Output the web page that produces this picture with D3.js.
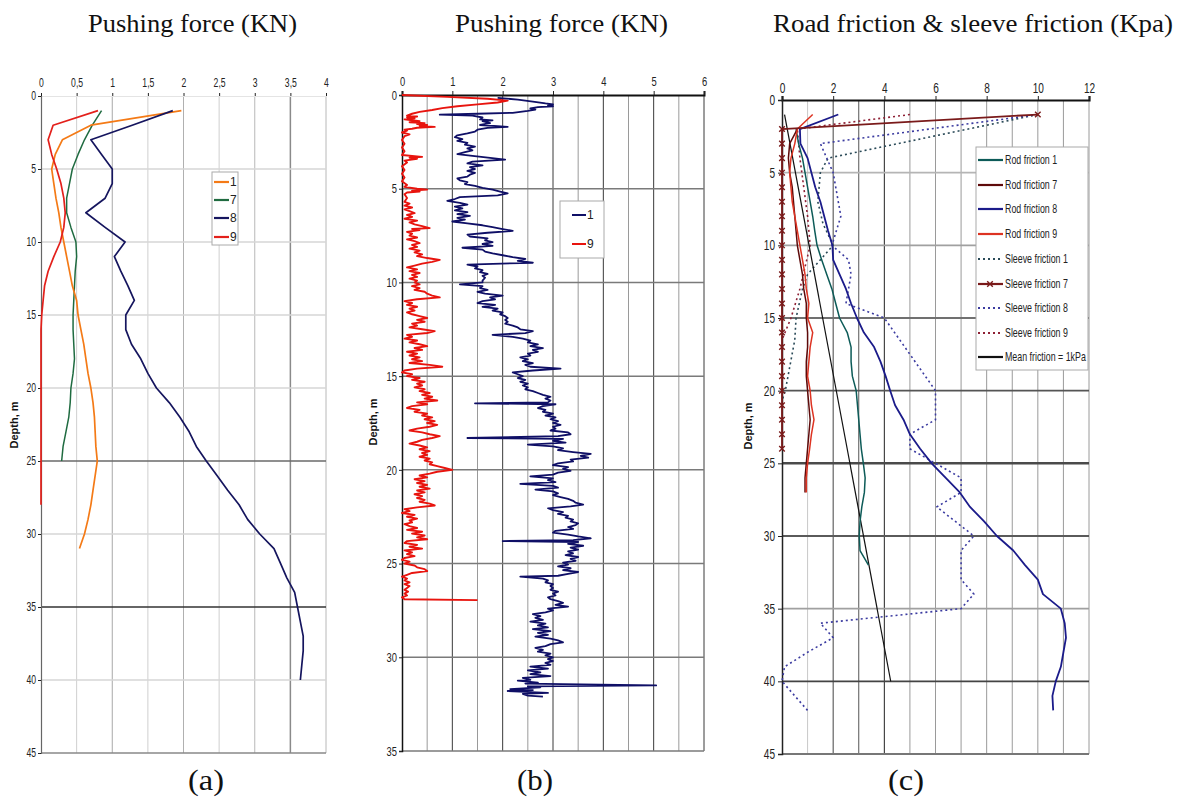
<!DOCTYPE html>
<html><head><meta charset="utf-8">
<script src="https://cdn.jsdelivr.net/npm/d3@7"></script>
<style>
body{margin:0;background:#fff;}
</style></head><body>
<svg id="c" width="1188" height="801"></svg>
<script>
// ---------------- DATA ----------------
const titles = ["Pushing force (KN)", "Pushing force (KN)", "Road friction & sleeve friction (Kpa)"];
const panelLabels = ["(a)", "(b)", "(c)"];
const depthLabel = "Depth, m";

// Panel (a): [depth m, force kN]
const aXTicks = [0,0.5,1,1.5,2,2.5,3,3.5,4];
const aYTicks = [0,5,10,15,20,25,30,35,40,45];
const aNames = ["1","7","8","9"];
const a1 = [[1,1.97],[2,0.7],[3,0.3],[4,0.2],[5,0.15],[6,0.18],[7,0.21],[8,0.25],[9,0.28],[10,0.32],[11,0.36],[12,0.4],[13,0.44],[14,0.5],[15,0.52],[16,0.56],[17,0.6],[18,0.63],[19,0.66],[20,0.7],[21,0.73],[22,0.75],[23,0.76],[24,0.77],[25,0.79],[26,0.76],[27,0.73],[28,0.7],[29,0.66],[30,0.61],[31,0.54]];
const a7 = [[1,0.85],[2,0.72],[3,0.61],[4,0.52],[5,0.44],[6,0.4],[7,0.36],[8,0.36],[9,0.42],[10,0.49],[11,0.5],[12,0.48],[13,0.47],[14,0.46],[15,0.45],[16,0.45],[17,0.46],[18,0.47],[19,0.45],[20,0.42],[21,0.41],[22,0.39],[23,0.35],[24,0.31],[25,0.29]];
const a8 = [[1,1.85],[2,1.28],[3,0.7],[4,0.85],[5,1.0],[6,1.0],[7,0.9],[8,0.63],[9,0.9],[10,1.18],[11,1.03],[12,1.12],[13,1.22],[14,1.31],[15,1.19],[16,1.19],[17,1.27],[18,1.4],[19,1.5],[20,1.62],[21,1.8],[22,1.95],[23,2.08],[24,2.18],[25,2.32],[26,2.47],[27,2.62],[28,2.78],[29,2.9],[30,3.07],[31,3.27],[32,3.36],[33,3.45],[34,3.56],[35,3.6],[36,3.64],[37,3.68],[38,3.68],[39,3.66],[40,3.64]];
const a9 = [[1,0.8],[2,0.17],[3,0.1],[4,0.15],[5,0.22],[6,0.28],[7,0.32],[8,0.34],[9,0.32],[10,0.27],[11,0.18],[12,0.1],[13,0.05],[14,0.03],[15,0.01],[16,0],[28,0]];

// Panel (b): [depth m, force kN]
const bXTicks = [0,1,2,3,4,5,6];
const bYTicks = [0,5,10,15,20,25,30,35];
const bNames = ["1","9"];
const b1 = [[0.15,1.9],[0.25,2.3],[0.35,2.6],[0.45,2.85],[0.5,3.0],[0.55,2.9],[0.6,3.0],[0.65,2.7],[0.72,2.55],[0.78,2.65],[0.85,2.5],[0.95,2.2],[1.0,1.5],[1.05,0.75],[1.1,1.4],[1.2,1.6],[1.3,1.55],[1.35,1.8],[1.4,1.6],[1.5,1.75],[1.6,1.55],[1.7,2.1],[1.75,1.7],[1.85,1.5],[1.95,1.45],[2.05,1.3],[2.15,1.1],[2.25,1.05],[2.35,1.2],[2.45,1.1],[2.55,1.3],[2.65,1.25],[2.75,1.45],[2.85,1.3],[2.95,1.4],[3.05,1.25],[3.15,1.1],[3.25,1.4],[3.35,1.75],[3.45,2.05],[3.55,1.4],[3.65,1.3],[3.75,1.6],[3.85,1.35],[3.95,1.45],[4.05,1.3],[4.15,1.45],[4.25,1.35],[4.35,1.3],[4.45,1.1],[4.55,1.15],[4.65,1.3],[4.75,1.25],[4.85,1.45],[4.95,1.6],[5.05,1.8],[5.15,1.95],[5.25,2.1],[5.35,1.9],[5.45,1.15],[5.55,1.05],[5.65,0.9],[5.75,1.15],[5.85,1.3],[5.95,1.05],[6.05,1.2],[6.15,1.05],[6.25,1.3],[6.35,1.1],[6.45,1.35],[6.55,1.1],[6.65,1.25],[6.75,1.0],[6.85,1.3],[6.95,1.6],[7.05,1.8],[7.15,2.0],[7.25,2.2],[7.35,1.7],[7.45,1.3],[7.55,1.35],[7.65,1.7],[7.75,1.65],[7.85,1.8],[7.95,1.6],[8.05,1.8],[8.15,1.2],[8.25,1.6],[8.35,1.65],[8.45,1.8],[8.55,2.0],[8.65,2.2],[8.75,2.45],[8.85,2.3],[8.95,2.6],[9.05,1.3],[9.15,1.5],[9.25,1.45],[9.35,1.6],[9.45,1.55],[9.55,1.7],[9.65,1.6],[9.75,1.65],[9.9,1.6],[10.0,1.6],[10.1,1.15],[10.2,1.6],[10.3,1.55],[10.4,1.7],[10.5,1.5],[10.6,1.65],[10.7,2.0],[10.8,1.75],[10.9,1.85],[11.0,1.6],[11.1,1.5],[11.2,1.85],[11.3,1.6],[11.4,1.9],[11.5,1.8],[11.6,2.0],[11.7,1.95],[11.8,2.05],[11.9,2.1],[12.0,2.05],[12.1,2.1],[12.2,2.05],[12.3,2.2],[12.4,2.3],[12.5,2.35],[12.6,2.6],[12.7,2.45],[12.8,1.8],[12.9,2.2],[13.0,2.4],[13.1,2.55],[13.2,2.5],[13.3,2.7],[13.4,2.55],[13.5,2.8],[13.6,2.6],[13.7,2.7],[13.8,2.5],[13.9,2.55],[14.0,2.35],[14.1,2.5],[14.2,2.4],[14.3,2.6],[14.4,2.45],[14.5,2.55],[14.6,3.15],[14.7,2.6],[14.8,2.2],[14.9,2.3],[15.0,2.4],[15.1,2.3],[15.2,2.45],[15.3,2.35],[15.4,2.5],[15.5,2.4],[15.6,2.5],[15.7,2.45],[15.8,2.6],[15.9,2.7],[16.0,2.8],[16.1,2.95],[16.2,2.85],[16.3,2.95],[16.4,2.9],[16.45,1.45],[16.5,3.05],[16.6,2.8],[16.7,2.7],[16.8,2.85],[16.9,2.8],[17.0,3.0],[17.1,2.85],[17.2,3.05],[17.3,2.95],[17.4,3.1],[17.5,3.0],[17.6,3.15],[17.7,3.0],[17.8,3.05],[17.9,2.95],[18.0,3.3],[18.1,3.35],[18.2,3.1],[18.3,1.3],[18.35,3.2],[18.45,3.0],[18.55,3.25],[18.65,2.5],[18.75,3.0],[18.85,3.2],[18.95,3.1],[19.05,3.4],[19.15,3.75],[19.25,3.55],[19.35,3.7],[19.45,3.35],[19.55,3.4],[19.65,3.1],[19.75,3.0],[19.85,3.3],[19.95,3.2],[20.05,3.35],[20.15,3.1],[20.25,3.0],[20.35,2.55],[20.45,3.0],[20.55,2.9],[20.65,3.05],[20.75,2.35],[20.85,3.0],[20.95,3.1],[21.05,2.65],[21.15,3.0],[21.25,3.1],[21.35,3.0],[21.45,3.15],[21.55,3.3],[21.65,3.4],[21.75,3.45],[21.85,3.6],[21.95,3.35],[22.05,2.9],[22.15,3.0],[22.25,3.2],[22.35,3.1],[22.45,3.3],[22.55,3.25],[22.65,3.4],[22.75,3.35],[22.85,3.5],[22.95,3.45],[23.05,3.3],[23.15,3.4],[23.25,3.05],[23.35,3.0],[23.45,3.3],[23.55,3.5],[23.65,3.75],[23.75,3.4],[23.8,2.0],[23.85,3.5],[23.95,3.3],[24.05,3.6],[24.15,3.35],[24.25,3.5],[24.35,3.3],[24.45,3.4],[24.55,3.25],[24.65,3.5],[24.75,3.35],[24.85,3.45],[24.95,3.2],[25.05,3.3],[25.15,3.1],[25.25,3.35],[25.35,3.2],[25.45,3.5],[25.55,3.3],[25.65,3.1],[25.7,2.35],[25.8,2.8],[25.9,2.9],[26.0,2.85],[26.1,3.0],[26.2,2.95],[26.3,3.0],[26.4,2.95],[26.5,3.1],[26.6,3.0],[26.7,3.05],[26.8,2.9],[26.9,2.95],[27.0,3.1],[27.1,3.2],[27.2,3.05],[27.3,3.3],[27.4,2.9],[27.5,3.0],[27.6,2.85],[27.7,2.6],[27.8,2.75],[27.9,2.65],[28.0,2.8],[28.1,2.55],[28.2,2.85],[28.3,2.7],[28.4,2.9],[28.5,2.6],[28.6,2.95],[28.7,2.7],[28.8,2.9],[28.9,2.65],[29.0,2.95],[29.1,3.1],[29.2,3.2],[29.3,2.95],[29.4,2.85],[29.5,2.65],[29.6,2.8],[29.7,2.7],[29.8,2.95],[29.9,2.85],[30.0,3.0],[30.1,2.9],[30.2,3.0],[30.3,2.85],[30.4,2.95],[30.5,2.55],[30.6,2.9],[30.7,2.5],[30.8,2.75],[30.9,2.55],[31.0,2.95],[31.1,2.4],[31.2,2.55],[31.25,2.3],[31.35,2.7],[31.4,2.45],[31.5,5.05],[31.55,2.5],[31.6,2.75],[31.7,2.15],[31.75,2.6],[31.8,2.1],[31.9,2.9],[31.95,2.4],[32.05,2.5],[32.1,2.8]];
const b9 = [[0,0],[0.1,0.9],[0.2,1.7],[0.3,2.1],[0.4,1.9],[0.5,1.5],[0.6,1.1],[0.7,0.8],[0.8,0.6],[0.9,0.35],[1.0,0.2],[1.1,0.1],[1.15,0.3],[1.2,0.1],[1.25,0.25],[1.3,0.05],[1.35,0.2],[1.4,0.35],[1.45,0.15],[1.5,0.45],[1.55,0.3],[1.6,0.5],[1.65,0.35],[1.7,0.65],[1.75,0.3],[1.8,0.2],[1.85,0.05],[1.9,0.1],[2.0,0.0],[2.1,0.15],[2.2,0.05],[2.4,0.0],[2.6,0.05],[2.8,0.0],[3.0,0.05],[3.2,0.0],[3.3,0.4],[3.35,0.15],[3.4,0.3],[3.5,0.05],[3.6,0.1],[3.8,0.0],[4.0,0.05],[4.2,0.0],[4.4,0.05],[4.6,0.0],[4.8,0.1],[4.9,0.05],[5.0,0.3],[5.05,0.5],[5.1,0.2],[5.15,0.35],[5.2,0.1],[5.3,0.05],[5.5,0.1],[5.7,0.05],[5.8,0.15],[5.9,0.05],[6.0,0.2],[6.1,0.05],[6.2,0.15],[6.3,0.25],[6.4,0.1],[6.5,0.2],[6.6,0.05],[6.7,0.3],[6.8,0.15],[6.9,0.25],[7.0,0.4],[7.1,0.55],[7.15,0.2],[7.2,0.35],[7.3,0.1],[7.4,0.2],[7.5,0.15],[7.6,0.3],[7.7,0.1],[7.8,0.25],[7.9,0.35],[8.0,0.2],[8.1,0.3],[8.2,0.15],[8.3,0.35],[8.4,0.25],[8.5,0.4],[8.6,0.3],[8.7,0.5],[8.8,0.75],[8.9,0.6],[9.0,0.4],[9.1,0.25],[9.2,0.1],[9.3,0.3],[9.4,0.15],[9.5,0.35],[9.6,0.2],[9.7,0.3],[9.8,0.15],[9.9,0.3],[10.0,0.25],[10.1,0.35],[10.2,0.2],[10.3,0.35],[10.4,0.25],[10.5,0.45],[10.6,0.5],[10.7,0.6],[10.8,0.75],[10.9,0.3],[11.0,0.05],[11.1,0.2],[11.2,0.1],[11.3,0.3],[11.4,0.15],[11.5,0.25],[11.6,0.1],[11.7,0.2],[11.8,0.35],[11.9,0.5],[12.0,0.3],[12.1,0.45],[12.2,0.2],[12.3,0.3],[12.4,0.15],[12.5,0.4],[12.6,0.65],[12.7,0.5],[12.8,0.1],[12.9,0.2],[13.0,0.05],[13.1,0.3],[13.2,0.15],[13.3,0.35],[13.4,0.5],[13.5,0.25],[13.6,0.4],[13.7,0.1],[13.8,0.3],[13.9,0.15],[14.0,0.35],[14.1,0.2],[14.2,0.4],[14.3,0.15],[14.4,0.55],[14.5,0.8],[14.6,0.3],[14.7,0.05],[14.8,0.0],[14.9,0.2],[15.0,0.1],[15.1,0.35],[15.2,0.2],[15.3,0.45],[15.4,0.3],[15.5,0.4],[15.6,0.25],[15.7,0.45],[15.8,0.35],[15.9,0.55],[16.0,0.4],[16.1,0.6],[16.2,0.45],[16.3,0.7],[16.4,0.3],[16.5,0.5],[16.6,0.2],[16.7,0.1],[16.8,0.35],[16.9,0.25],[17.0,0.5],[17.1,0.4],[17.2,0.6],[17.3,0.45],[17.4,0.65],[17.5,0.5],[17.6,0.7],[17.7,0.55],[17.8,0.3],[17.9,0.15],[18.0,0.4],[18.1,0.55],[18.2,0.75],[18.3,0.6],[18.4,0.4],[18.5,0.3],[18.6,0.15],[18.7,0.35],[18.8,0.5],[18.9,0.35],[19.0,0.55],[19.1,0.4],[19.2,0.5],[19.3,0.35],[19.4,0.55],[19.5,0.45],[19.6,0.6],[19.7,0.55],[19.8,0.7],[19.9,0.85],[20.0,1.0],[20.1,0.7],[20.2,0.55],[20.3,0.35],[20.4,0.5],[20.5,0.25],[20.6,0.45],[20.7,0.3],[20.8,0.5],[20.9,0.35],[21.0,0.55],[21.1,0.3],[21.2,0.45],[21.3,0.25],[21.4,0.4],[21.5,0.3],[21.6,0.45],[21.7,0.35],[21.8,0.55],[21.9,0.65],[22.0,0.3],[22.1,0.05],[22.2,0.15],[22.3,0.0],[22.4,0.25],[22.5,0.1],[22.6,0.3],[22.7,0.15],[22.8,0.2],[22.9,0.05],[23.0,0.15],[23.1,0.3],[23.2,0.1],[23.3,0.4],[23.4,0.2],[23.5,0.45],[23.6,0.3],[23.7,0.5],[23.8,0.1],[23.9,0.05],[24.0,0.3],[24.1,0.15],[24.2,0.4],[24.3,0.05],[24.4,0.2],[24.5,0.1],[24.6,0.25],[24.7,0.05],[24.8,0.0],[24.9,0.15],[25.0,0.05],[25.1,0.25],[25.2,0.3],[25.3,0.45],[25.4,0.5],[25.5,0.2],[25.6,0.1],[25.7,0.0],[25.8,0.1],[25.9,0.05],[26.0,0.15],[26.1,0.05],[26.2,0.15],[26.3,0.1],[26.4,0.05],[26.5,0.12],[26.6,0.05],[26.7,0.1],[26.8,0.0],[26.9,0.05],[26.95,1.5]];

// Panel (c): [depth m, friction kPa]
const cXTicks = [0,2,4,6,8,10,12];
const cYTicks = [0,5,10,15,20,25,30,35,40,45];
const cNames = ["Rod friction 1","Rod friction 7","Rod friction 8","Rod friction 9","Sleeve friction 1","Sleeve friction 7","Sleeve friction 8","Sleeve friction 9","Mean friction = 1kPa"];
const rod1 = [[2,0.55],[3,0.65],[4,0.8],[5,0.9],[6,1.0],[7,1.1],[8,1.2],[9,1.28],[10,1.37],[11,1.55],[12,1.75],[13,1.95],[14,2.1],[15,2.25],[16,2.55],[17,2.7],[18,2.7],[19,2.75],[20,2.9],[21,2.95],[22,3.0],[23,3.05],[24,3.1],[25,3.18],[26,3.25],[27,3.22],[28,3.12],[29,3.05],[30,3.02],[31,3.05],[32,3.38]];
const rod7 = [[2,0.6],[3,0.3],[4,0.25],[5,0.3],[6,0.4],[7,0.45],[8,0.5],[9,0.55],[10,0.6],[11,0.7],[12,0.8],[13,0.85],[14,0.95],[15,0.95],[16,1.0],[17,1.0],[18,0.95],[19,0.95],[20,1.0],[21,1.05],[22,1.1],[23,1.05],[24,1.0],[25,0.95],[26,0.9],[27,0.9]];
const rod8 = [[1,2.2],[2,0.7],[3,0.72],[4,1.0],[5,1.15],[6,1.3],[7,1.5],[8,1.65],[9,1.8],[10,1.97],[11,2.0],[12,2.25],[13,2.5],[14,2.7],[15,2.93],[16,3.2],[17,3.6],[18,3.85],[19,4.05],[20,4.23],[21,4.42],[22,4.75],[23,5.0],[24,5.4],[25,5.85],[26,6.4],[27,6.95],[28,7.35],[29,7.9],[30,8.4],[31,9.04],[32,9.5],[33,10.0],[34,10.2],[35,10.9],[36,11.05],[37,11.1],[38,11.0],[39,10.9],[40,10.7],[41,10.57],[42,10.6]];
const rod9 = [[1,1.2],[2,0.6],[3,0.5],[4,0.35],[5,0.3],[6,0.35],[7,0.4],[8,0.5],[9,0.6],[10,0.7],[11,0.8],[12,0.9],[13,0.95],[14,1.05],[15,1.0],[16,1.2],[17,1.1],[18,1.05],[19,1.0],[20,1.1],[21,1.15],[22,1.25],[23,1.15],[24,1.08],[25,1.0],[26,0.95],[27,0.95]];
const slv1 = [[1,10],[4,1.8],[5,1.5],[7,1.4],[8.5,1.6],[10,2.0],[11,1.5],[12,1.0],[13,0.8],[15,0.55],[16.5,0.5],[20,0.13],[20.7,0]];
const slv7 = [[1,10],[2,0],[3,0],[4,0],[5,0],[6,0],[7,0],[8,0],[9,0],[10,0],[11,0],[12,0],[13,0],[14,0],[15,0],[16,0],[17,0],[18,0],[19,0],[20,0],[21,0],[22,0],[23,0],[24,0]];
const slv8 = [[1,10],[3,1.5],[5,2.0],[8,2.3],[10,1.95],[11,2.6],[12,2.7],[14,2.5],[15,4.0],[17.5,5.0],[20,6.0],[22,6.0],[23,5.0],[24,5.0],[26,7.0],[27,7.0],[28,6.05],[30,7.5],[31,7.0],[33,7.0],[34,7.5],[35,7.0],[36,1.5],[37,2.0],[38,1.0],[39,0.1],[40,0],[42,1.0]];
const slv9 = [[1,5.0],[2,0.6],[4,0.7],[6,0.85],[8,1.0],[10,1.1],[11.5,0.9],[13,0.7],[15,0.35],[16.5,0]];
const meanF = [[1,0.1],[40,4.25]];

// ---------------- DRAW ----------------
const svg = d3.select("#c");
const tickFont = '"Liberation Sans",Arial,sans-serif';
const serifFont = '"Liberation Serif","DejaVu Serif",serif';

function narrow(sel, f){
  sel.each(function(){
    const w = this.getComputedTextLength();
    if(w>0){ d3.select(this).attr("textLength", w*f).attr("lengthAdjust","spacingAndGlyphs"); }
  });
}

function panel(o){
  const x = d3.scaleLinear().domain(o.xd).range(o.xr);
  const y = d3.scaleLinear().domain(o.yd).range(o.yr);
  const g = svg.append("g");
  g.selectAll(null).data(o.vGrid).join("line")
    .attr("x1",d=>x(d)).attr("x2",d=>x(d)).attr("y1",y(o.yd[0])).attr("y2",y(o.yd[1]))
    .attr("stroke",(d,i)=>o.vCol(d,i)).attr("stroke-width",(d,i)=>o.vW?o.vW(d,i):1);
  g.selectAll(null).data(o.hGrid).join("line")
    .attr("x1",x(o.xd[0])).attr("x2",x(o.xd[1])).attr("y1",d=>y(d)).attr("y2",d=>y(d))
    .attr("stroke",(d,i)=>o.hCol(d,i)).attr("stroke-width",(d,i)=>o.hW?o.hW(d,i):1.5);
  const ax = g.append("g").attr("transform",`translate(0,${y(0)})`)
    .call(d3.axisTop(x).tickValues(o.xTicks).tickSize(o.xTS).tickPadding(o.xTP).tickFormat(o.fmt));
  ax.select(".domain").attr("stroke",o.topCol).attr("stroke-width",o.topW);
  ax.selectAll(".tick line").attr("stroke","#222");
  ax.selectAll("text").style("font-family",tickFont).style("font-size",o.fs+"px").attr("fill","#222");
  narrow(ax.selectAll("text"),0.72);
  const ay = g.append("g").attr("transform",`translate(${x(0)},0)`)
    .call(d3.axisLeft(y).tickValues(o.yTicks).tickSize(o.yTS).tickPadding(o.yTP));
  ay.select(".domain").attr("stroke",o.leftCol).attr("stroke-width",o.leftW);
  ay.selectAll(".tick line").attr("stroke","#222");
  ay.selectAll("text").style("font-family",tickFont).style("font-size",o.fs+"px").attr("fill","#222");
  narrow(ay.selectAll("text"),0.72);
  g.append("text").attr("transform",`translate(${o.dlx},${o.dly}) rotate(-90)`)
    .attr("text-anchor","middle").style("font-family","Liberation Sans, Arial, sans-serif")
    .style("font-weight","bold").style("font-size","11px").attr("fill","#111").text(depthLabel);
  return {x,y,g};
}

function drawLine(p, data, color, w, dash){
  const line = d3.line().x(d=>p.x(d[1])).y(d=>p.y(d[0]));
  p.g.append("path").datum(data).attr("d",line).attr("fill","none")
    .attr("stroke",color).attr("stroke-width",w).attr("stroke-linejoin","round")
    .attr("stroke-dasharray",dash||null);
}

// Titles
const titleX = [192.5, 561.5, 973];
const titleW = [209, 213, 400];
const labX = [206, 535, 906];
titles.forEach((t,i)=>{
  svg.append("text").attr("x",titleX[i]).attr("y",32).attr("text-anchor","middle")
    .attr("textLength",titleW[i]).attr("lengthAdjust","spacingAndGlyphs")
    .style("font-family",serifFont).style("font-size","25px").attr("fill","#111").text(t);
  svg.append("text").attr("x",labX[i]).attr("y",790).attr("text-anchor","middle")
    .attr("textLength",36).attr("lengthAdjust","spacingAndGlyphs")
    .style("font-family",serifFont).style("font-size","29px").attr("fill","#111").text(panelLabels[i]);
});

// ---- Panel (a)
const pa = panel({xd:[0,4],xr:[41,326],yd:[0,45],yr:[96,753],
  vGrid:[0.5,1,1.5,2,2.5,3,3.5,4], hGrid:[5,10,15,20,25,30,35,40,45],
  vCol:(d)=>({0.5:"#cfcfcf",1:"#a8a8a8",1.5:"#cfcfcf",2:"#b0b0b0",2.5:"#cfcfcf",3:"#b8b8b8",3.5:"#8a8a8a",4:"#b8b8b8"})[d],
  vW:(d)=>d===3.5?1.5:1,
  hCol:(d)=>({25:"#6a6a6a",35:"#333",45:"#888"})[d]||"#d6d6d6",
  hW:()=>1.5,
  xTicks:aXTicks,yTicks:aYTicks,xTS:3,xTP:6,yTS:3,yTP:2,fs:12,
  fmt:d=>String(d).replace(".",","),
  topCol:"#e4e4e4",topW:1,leftCol:"#666",leftW:1.2,dlx:18,dly:425});
drawLine(pa,a7,"#1f6b40",1.5);
drawLine(pa,a1,"#f47a16",1.7);
drawLine(pa,a8,"#15155e",1.7);
drawLine(pa,a9,"#e3201b",1.7);
{
  const lg = pa.g.append("g");
  lg.append("rect").attr("x",212).attr("y",172).attr("width",26).attr("height",73).attr("fill","#fff").attr("stroke","#aaa");
  const cols = ["#f47a16","#1f6b40","#15155e","#e3201b"];
  const ly = [182,200,218,237];
  aNames.forEach((n,i)=>{
    lg.append("line").attr("x1",214).attr("x2",229).attr("y1",ly[i]).attr("y2",ly[i]).attr("stroke",cols[i]).attr("stroke-width",2.2);
    lg.append("text").attr("x",230).attr("y",ly[i]+4).style("font-family",tickFont).style("font-size","12px").attr("fill","#222").text(n);
  });
}

// ---- Panel (b)
const pb = panel({xd:[0,6],xr:[402,704],yd:[0,35],yr:[95,751],
  vGrid:[0.5,1,1.5,2,2.5,3,3.5,4,4.5,5,5.5,6], hGrid:[5,10,15,20,25,30,35],
  vCol:(d)=>Number.isInteger(d)?"#3a3a3a":"#9a9a9a",
  vW:()=>1,
  hCol:()=>"#7a7a7a", hW:()=>1.5,
  xTicks:bXTicks,yTicks:bYTicks,xTS:4,xTP:5,yTS:3,yTP:2,fs:13,
  fmt:d=>String(d),
  topCol:"#111",topW:2,leftCol:"#111",leftW:1.5,dlx:377,dly:422});
drawLine(pb,b9,"#e8140e",1.9);
drawLine(pb,b1,"#0f0f66",1.8);
{
  const lg = pb.g.append("g");
  lg.append("rect").attr("x",560).attr("y",201).attr("width",44).attr("height",57).attr("fill","#fff").attr("stroke","#aaa");
  const cols = ["#0f0f66","#e8140e"];
  const ly = [215,244];
  bNames.forEach((n,i)=>{
    lg.append("line").attr("x1",572).attr("x2",586).attr("y1",ly[i]).attr("y2",ly[i]).attr("stroke",cols[i]).attr("stroke-width",2);
    lg.append("text").attr("x",587).attr("y",ly[i]+4).style("font-family",tickFont).style("font-size","12px").attr("fill","#222").text(n);
  });
}

// ---- Panel (c)
const pc = panel({xd:[0,12],xr:[782,1089],yd:[0,45],yr:[100,754],
  vGrid:[1,2,3,4,5,6,7,8,9,10,11,12], hGrid:[5,10,15,20,25,30,35,40,45],
  vCol:(d)=>({1:"#c8c8c8",2:"#444",3:"#555",4:"#222"})[d]||"#9a9a9a",
  vW:()=>1,
  hCol:(d)=>({5:"#b5b5b5",10:"#a0a0a0",15:"#707070",20:"#555",25:"#4a4a4a",30:"#5a5a5a",35:"#a0a0a0",40:"#444",45:"#777"})[d],
  hW:(d)=>d===25?2.5:1.8,
  xTicks:cXTicks,yTicks:cYTicks,xTS:4,xTP:3,yTS:4,yTP:3,fs:14,
  fmt:d=>String(d),
  topCol:"#111",topW:2.2,leftCol:"#222",leftW:1.5,dlx:752,dly:426});
const cCols = {r1:"#0d5b58",r7:"#5e0a0a",r8:"#1b1b8a",r9:"#dd3322",s1:"#2a4a58",s7:"#7a1a1a",s8:"#3b3ba0",s9:"#8e2035",m:"#111"};
drawLine(pc,slv1,cCols.s1,1.6,"2,3");
drawLine(pc,slv8,cCols.s8,1.6,"2,3");
drawLine(pc,slv9,cCols.s9,1.6,"2,3");
drawLine(pc,meanF,cCols.m,1.2);
drawLine(pc,rod1,cCols.r1,1.5);
drawLine(pc,rod7,cCols.r7,1.5);
drawLine(pc,rod9,cCols.r9,1.5);
drawLine(pc,rod8,cCols.r8,1.8);
drawLine(pc,slv7,cCols.s7,1.8);
pc.g.selectAll(null).data(slv7).join("path")
  .attr("transform",d=>`translate(${pc.x(d[1])},${pc.y(d[0])})`)
  .attr("d",d3.symbol(d3.symbolTimes,22)()).attr("fill","none").attr("stroke",cCols.s7).attr("stroke-width",1.4);
{
  const lg = pc.g.append("g");
  lg.append("rect").attr("x",976).attr("y",147).attr("width",112).attr("height",223).attr("fill","#fff").attr("stroke","#aaa");
  const keys = ["r1","r7","r8","r9","s1","s7","s8","s9","m"];
  const dashes = [null,null,null,null,"2,3",null,"2,3","2,3",null];
  const ly = [160,185,209,234,259,284,308,333,357];
  cNames.forEach((n,i)=>{
    lg.append("line").attr("x1",978).attr("x2",1003).attr("y1",ly[i]).attr("y2",ly[i]).attr("stroke",cCols[keys[i]]).attr("stroke-width",2.2).attr("stroke-dasharray",dashes[i]);
    if(keys[i]==="s7") lg.append("path").attr("transform",`translate(990,${ly[i]})`).attr("d",d3.symbol(d3.symbolTimes,22)()).attr("fill","none").attr("stroke",cCols.s7).attr("stroke-width",1.4);
    const t = lg.append("text").attr("x",1005).attr("y",ly[i]+4).style("font-family",tickFont).style("font-size","13px").attr("fill","#222").text(n);
    narrow(t,0.68);
  });
}
</script>
</body></html>
